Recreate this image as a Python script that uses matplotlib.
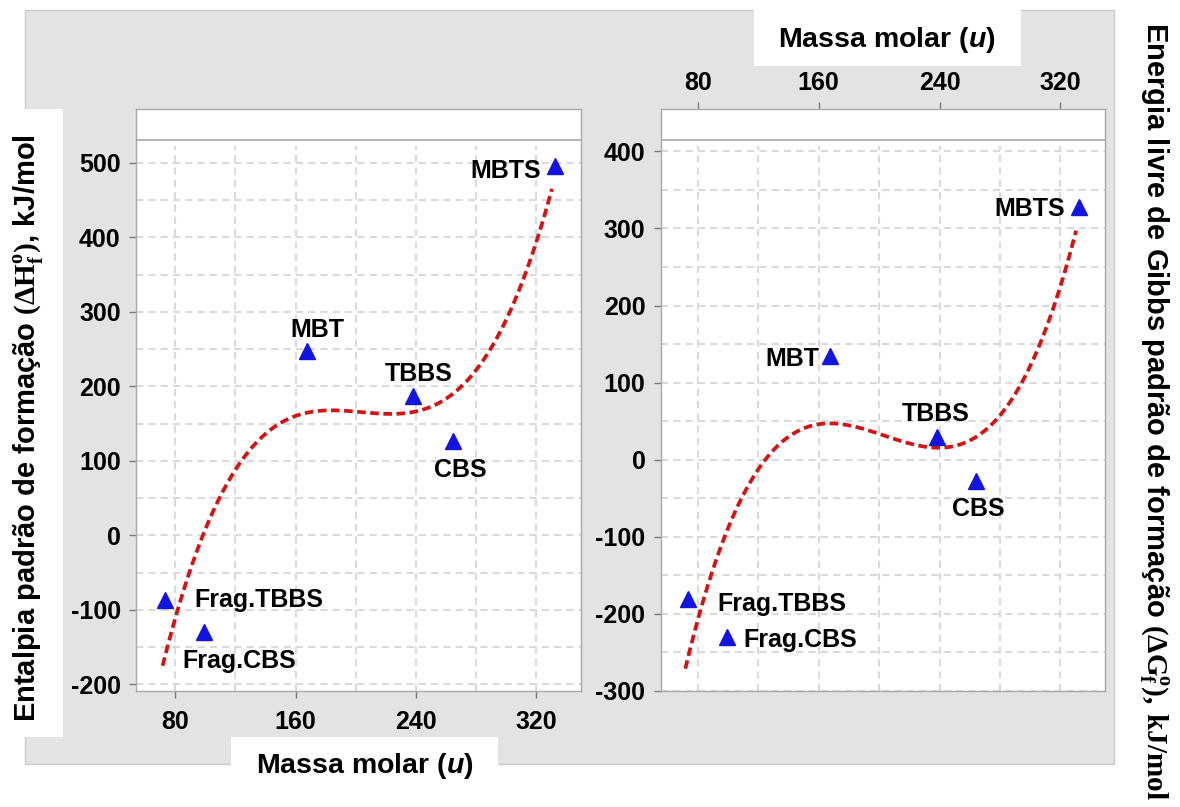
import numpy as np
import matplotlib
matplotlib.use("Agg")
import matplotlib.pyplot as plt
from matplotlib.patches import Rectangle

plt.rcParams['font.family'] = ['Liberation Sans', 'DejaVu Sans']
plt.rcParams['font.weight'] = 'bold'
plt.rcParams['axes.unicode_minus'] = False
plt.rcParams['mathtext.fontset'] = 'custom'
plt.rcParams['mathtext.rm'] = 'Liberation Serif'
plt.rcParams['mathtext.bf'] = 'Liberation Serif:bold'
plt.rcParams['mathtext.it'] = 'Liberation Sans:italic:bold'

# ---- data ----
compounds = ["Frag.TBBS", "Frag.CBS", "MBT", "TBBS", "CBS", "MBTS"]
molar_mass = [73.1, 99.2, 167.3, 238.4, 264.4, 332.5]
enthalpy = [-87, -130, 248, 187, 127, 496]      # kJ/mol
gibbs = [-181, -230, 135, 30, -28, 328]         # kJ/mol
x_ticks = [80, 160, 240, 320]
enthalpy_ticks = [-200, -100, 0, 100, 200, 300, 400, 500]
gibbs_ticks = [-300, -200, -100, 0, 100, 200, 300, 400]

# ---- figure geometry (pixels) ----
W, H = 1180, 807
fig = plt.figure(figsize=(W / 100, H / 100), dpi=100)


def fx(px):
    return px / W


def fy(py):
    return 1 - py / H


def fig_rect(x0, y0, x1, y1, **kw):
    r = Rectangle((fx(x0), fy(y1)), fx(x1) - fx(x0), fy(y0) - fy(y1),
                  transform=fig.transFigure, **kw)
    fig.add_artist(r)
    return r


GRAY = '#e3e3e3'
fig_rect(25, 10, 1114, 764, facecolor=GRAY, edgecolor='#cbcbcb', lw=1, zorder=-3)
fig_rect(0, 109, 63, 737, facecolor='white', edgecolor='none', zorder=-2)
fig_rect(231, 737, 498, 807, facecolor='white', edgecolor='none', zorder=-2)
fig_rect(754, 9, 1021, 66, facecolor='white', edgecolor='none', zorder=-2)

TOP, BOT = 109, 691
ax1 = fig.add_axes([fx(136), fy(BOT), fx(581) - fx(136), fy(TOP) - fy(BOT)])
ax2 = fig.add_axes([fx(660.7), fy(BOT), fx(1105.4) - fx(660.7), fy(TOP) - fy(BOT)])

SPINE = '#a8a8a8'
GRID = '#dadada'
RED = '#d31414'
BLUE = '#1414e0'
TICK_FS = 18
LABEL_FS = 18

panels = [
    dict(ax=ax1, y=enthalpy, yticks=enthalpy_ticks, xlim=(53.9, 349.8),
         ylim=(-209, 572.3), cap=530.7, grid_y=(-200, 500), top=False,
         offsets=[(30, 6.6, 'left'), (-21.7, 35.6, 'left'), (11.3, -13.4, 'center'),
                  (5, -15, 'center'), (7.7, 36, 'center'), (-14.2, 12.6, 'right')]),
    dict(ax=ax2, y=gibbs, yticks=gibbs_ticks, xlim=(55.3, 349.9),
         ylim=(-300, 455), cap=414.7, grid_y=(-300, 400), top=True,
         offsets=[(30, 11.7, 'left'), (16.7, 10, 'left'), (-10.1, 10, 'right'),
                  (-1.3, -15.6, 'center'), (1.9, 35, 'center'), (-14.3, 9.4, 'right')]),
]

for p in panels:
    ax = p['ax']
    ax.set_xlim(*p['xlim'])
    ax.set_ylim(*p['ylim'])
    ax.set_facecolor('white')
    for s in ax.spines.values():
        s.set_color(SPINE)
        s.set_linewidth(1.0)

    # dashed grid below the header line
    gx = np.arange(40, 360, 40)
    gx = gx[(gx > p['xlim'][0]) & (gx < p['xlim'][1])]
    gy = np.arange(p['grid_y'][0], p['grid_y'][1] + 1, 50)
    dash = (0, (3.5, 2.4))
    ax.hlines(gy, *p['xlim'], colors=GRID, lw=1.5, linestyles=[dash], zorder=0.5)
    ax.vlines(gx, p['ylim'][0], p['cap'] - 8, colors=GRID, lw=1.5, linestyles=[dash], zorder=0.5)
    ax.axhline(p['cap'], color=SPINE, lw=1.2, zorder=1)

    # cubic trend of the values against molar mass
    coef = np.polyfit(molar_mass, p['y'], 3)
    xs = np.linspace(molar_mass[0] - 1.5, molar_mass[-1] - 2, 300)
    ax.plot(xs, np.polyval(coef, xs), color=RED, lw=2.7,
            linestyle=(0, (2.3, 1.2)), zorder=3)

    ax.plot(molar_mass, p['y'], linestyle='none', marker='^', ms=12,
            color=BLUE, zorder=4)
    for name, xv, yv, (dx, dy, ha) in zip(compounds, molar_mass, p['y'], p['offsets']):
        ax.annotate(name, (xv, yv), xytext=(dx * 0.72, -dy * 0.72),
                    textcoords='offset points', ha=ha, va='baseline',
                    fontsize=LABEL_FS, fontweight='bold', color='black', zorder=5)

    ax.set_yticks(p['yticks'])
    ax.set_xticks(x_ticks)
    if p['top']:
        ax.xaxis.tick_top()
        ax.tick_params(axis='x', pad=5)
    else:
        ax.tick_params(axis='x', pad=9)
    ax.tick_params(axis='both', direction='out', length=5, width=1,
                   color='#7a7a7a', labelsize=TICK_FS)
    ax.tick_params(axis='y', pad=6)
    for lab in ax.get_xticklabels() + ax.get_yticklabels():
        lab.set_fontweight('bold')

# axis titles
fig.text(fx(364.5), fy(766), r'Massa molar ($u$)', ha='center', va='center',
         fontsize=20.5, fontweight='bold')
fig.text(fx(887), fy(40), r'Massa molar ($u$)', ha='center', va='center',
         fontsize=20.5, fontweight='bold')
fig.text(fx(28), fy(428), r'Entalpia padrão de formação $(\Delta\mathrm{H}_{\mathrm{f}}^{\mathrm{o}})$, kJ/mol',
         rotation=90, ha='center', va='center', fontsize=21, fontweight='bold')
fig.text(fx(1154), fy(411),
         r'Energia livre de Gibbs padrão de formação $\mathbf{(\Delta G_{f}^{o}),\,kJ/mol}$',
         rotation=-90, ha='center', va='center', fontsize=21, fontweight='bold')

fig.savefig('out.png', dpi=100, facecolor='white')
